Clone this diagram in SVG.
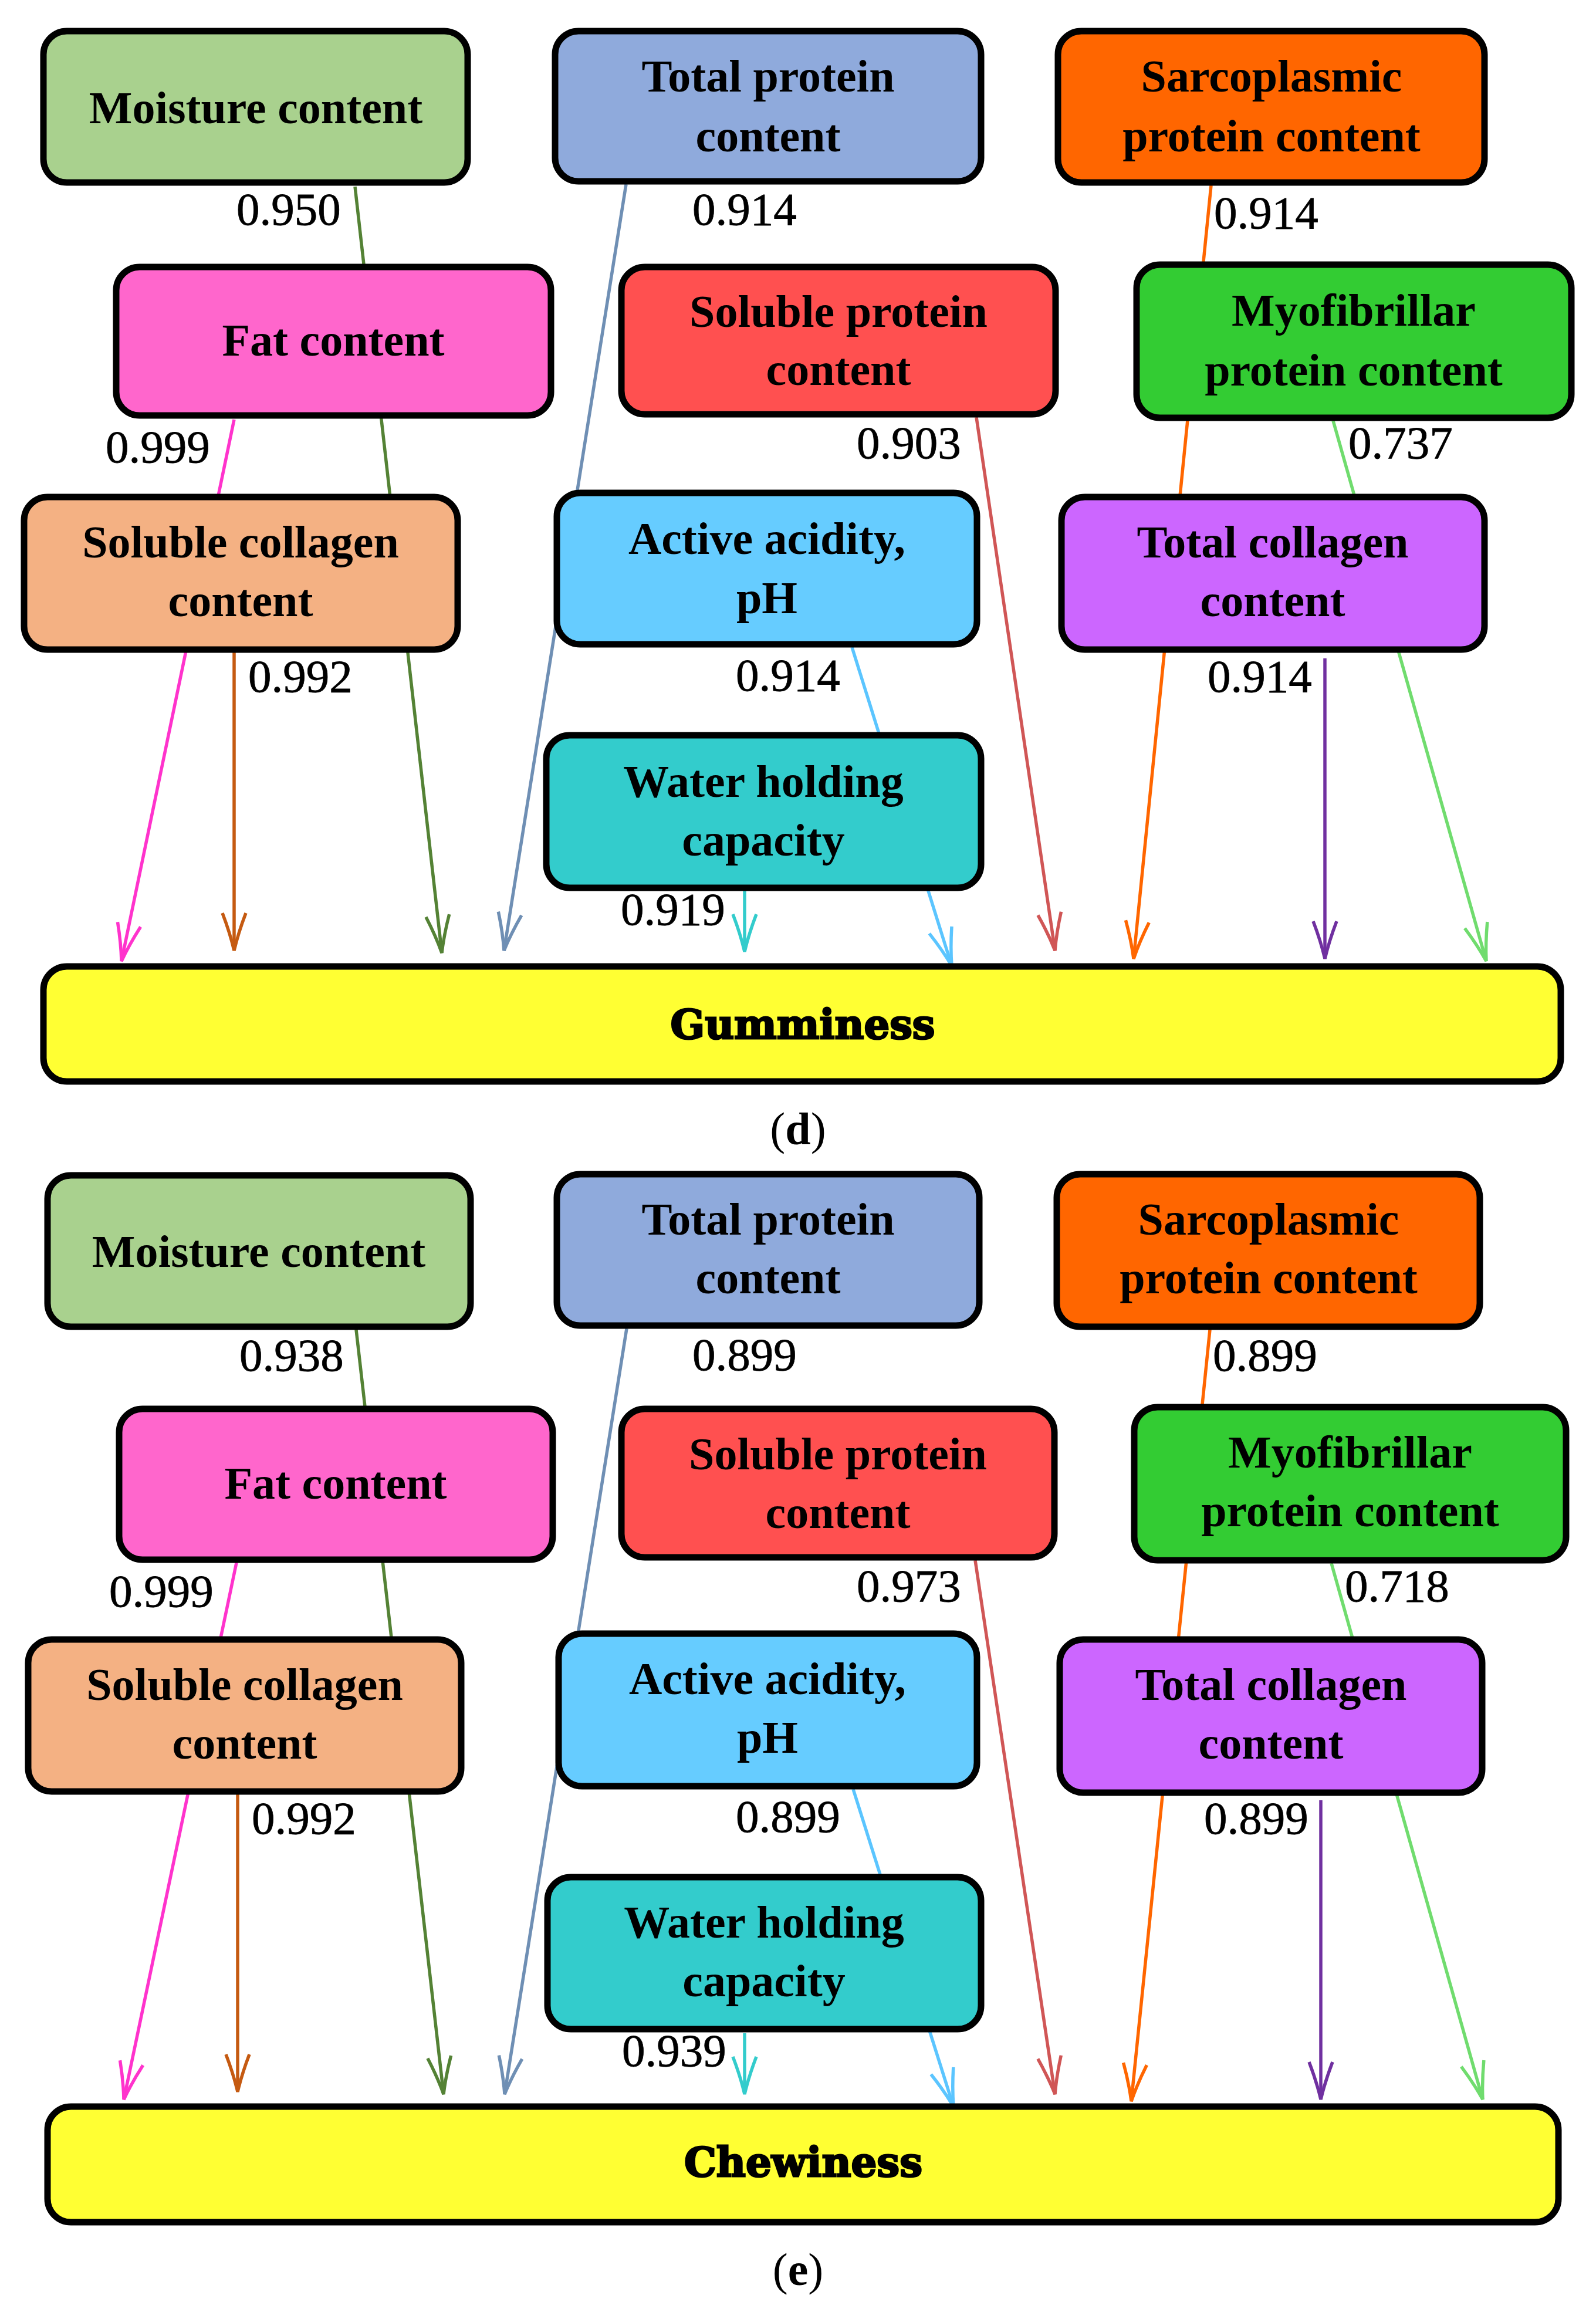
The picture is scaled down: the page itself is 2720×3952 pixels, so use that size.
<svg xmlns="http://www.w3.org/2000/svg" width="2720" height="3952" viewBox="0 0 2720 3952">
<style>
.box{stroke:#000;stroke-width:11}
.t{font-family:"Liberation Serif","Times New Roman",serif;font-weight:bold;font-size:78px;fill:#000;text-anchor:middle}
.big{font-family:"DejaVu Serif","Liberation Serif",serif;font-weight:bold;font-size:69px;fill:#000;text-anchor:middle;stroke:#000;stroke-width:3}
.n{font-family:"Liberation Serif","Times New Roman",serif;font-size:79px;fill:#000;stroke:#000;stroke-width:0.8}
.cap{font-family:"Liberation Serif","Times New Roman",serif;font-size:78px;fill:#000;text-anchor:middle}
.c{fill:none;stroke-width:5.5}
.h{fill:none;stroke-width:5.5}
</style>
<defs>
<marker id="m1" markerUnits="userSpaceOnUse" viewBox="-70 -26 76 52" markerWidth="76" markerHeight="52" refX="0" refY="0" orient="auto"><path class="h" d="M-64,-20 Q-30,-7 0,0 Q-30,7 -64,20" stroke="#548235"/></marker>
<marker id="m2" markerUnits="userSpaceOnUse" viewBox="-70 -26 76 52" markerWidth="76" markerHeight="52" refX="0" refY="0" orient="auto"><path class="h" d="M-64,-20 Q-30,-7 0,0 Q-30,7 -64,20" stroke="#FF33CC"/></marker>
<marker id="m3" markerUnits="userSpaceOnUse" viewBox="-70 -26 76 52" markerWidth="76" markerHeight="52" refX="0" refY="0" orient="auto"><path class="h" d="M-64,-20 Q-30,-7 0,0 Q-30,7 -64,20" stroke="#C55A11"/></marker>
<marker id="m4" markerUnits="userSpaceOnUse" viewBox="-70 -26 76 52" markerWidth="76" markerHeight="52" refX="0" refY="0" orient="auto"><path class="h" d="M-64,-20 Q-30,-7 0,0 Q-30,7 -64,20" stroke="#6F8FB4"/></marker>
<marker id="m5" markerUnits="userSpaceOnUse" viewBox="-70 -26 76 52" markerWidth="76" markerHeight="52" refX="0" refY="0" orient="auto"><path class="h" d="M-64,-20 Q-30,-7 0,0 Q-30,7 -64,20" stroke="#5BC5FF"/></marker>
<marker id="m6" markerUnits="userSpaceOnUse" viewBox="-70 -26 76 52" markerWidth="76" markerHeight="52" refX="0" refY="0" orient="auto"><path class="h" d="M-64,-20 Q-30,-7 0,0 Q-30,7 -64,20" stroke="#33CCCC"/></marker>
<marker id="m7" markerUnits="userSpaceOnUse" viewBox="-70 -26 76 52" markerWidth="76" markerHeight="52" refX="0" refY="0" orient="auto"><path class="h" d="M-64,-20 Q-30,-7 0,0 Q-30,7 -64,20" stroke="#D05656"/></marker>
<marker id="m8" markerUnits="userSpaceOnUse" viewBox="-70 -26 76 52" markerWidth="76" markerHeight="52" refX="0" refY="0" orient="auto"><path class="h" d="M-64,-20 Q-30,-7 0,0 Q-30,7 -64,20" stroke="#FF6600"/></marker>
<marker id="m9" markerUnits="userSpaceOnUse" viewBox="-70 -26 76 52" markerWidth="76" markerHeight="52" refX="0" refY="0" orient="auto"><path class="h" d="M-64,-20 Q-30,-7 0,0 Q-30,7 -64,20" stroke="#7030A0"/></marker>
<marker id="m10" markerUnits="userSpaceOnUse" viewBox="-70 -26 76 52" markerWidth="76" markerHeight="52" refX="0" refY="0" orient="auto"><path class="h" d="M-64,-20 Q-30,-7 0,0 Q-30,7 -64,20" stroke="#70DC6E"/></marker>
</defs>
<rect width="2720" height="3952" fill="#fff"/>

<g id="connectors">
<!-- panel d -->
<path class="c" stroke="#548235" marker-end="url(#m1)" d="M605,318 L753,1624"/>
<path class="c" stroke="#FF33CC" marker-end="url(#m2)" d="M399,715 L207,1638"/>
<path class="c" stroke="#C55A11" marker-end="url(#m3)" d="M399,1112 L399,1620"/>
<path class="c" stroke="#6F8FB4" marker-end="url(#m4)" d="M1067,314 L859,1620"/>
<path class="c" stroke="#5BC5FF" marker-end="url(#m5)" d="M1452,1103 L1622,1646"/>
<path class="c" stroke="#33CCCC" marker-end="url(#m6)" d="M1269,1518 L1269,1622"/>
<path class="c" stroke="#D05656" marker-end="url(#m7)" d="M1664,711 L1798,1620"/>
<path class="c" stroke="#FF6600" marker-end="url(#m8)" d="M2064,316 L1932,1634"/>
<path class="c" stroke="#7030A0" marker-end="url(#m9)" d="M2258,1122 L2258,1634"/>
<path class="c" stroke="#70DC6E" marker-end="url(#m10)" d="M2272,717 L2533,1638"/>
<!-- panel e -->
<path class="c" stroke="#548235" marker-end="url(#m1)" d="M607,2266 L756,3569"/>
<path class="c" stroke="#FF33CC" marker-end="url(#m2)" d="M403,2663 L211,3578"/>
<path class="c" stroke="#C55A11" marker-end="url(#m3)" d="M405,3058 L405,3565"/>
<path class="c" stroke="#6F8FB4" marker-end="url(#m4)" d="M1068,2264 L860,3569"/>
<path class="c" stroke="#5BC5FF" marker-end="url(#m5)" d="M1454,3049 L1625,3590"/>
<path class="c" stroke="#33CCCC" marker-end="url(#m6)" d="M1269,3465 L1269,3569"/>
<path class="c" stroke="#D05656" marker-end="url(#m7)" d="M1662,2659 L1798,3569"/>
<path class="c" stroke="#FF6600" marker-end="url(#m8)" d="M2062,2266 L1928,3581"/>
<path class="c" stroke="#7030A0" marker-end="url(#m9)" d="M2251,3068 L2251,3578"/>
<path class="c" stroke="#70DC6E" marker-end="url(#m10)" d="M2269,2664 L2527,3578"/>
<!-- labels d -->
<text class="n" x="403" y="383">0.950</text>
<text class="n" x="1180" y="383">0.914</text>
<text class="n" x="2069" y="389">0.914</text>
<text class="n" x="180" y="788">0.999</text>
<text class="n" x="1460" y="781">0.903</text>
<text class="n" x="2298" y="781">0.737</text>
<text class="n" x="423" y="1179">0.992</text>
<text class="n" x="1254" y="1177">0.914</text>
<text class="n" x="2058" y="1179">0.914</text>
<text class="n" x="1058" y="1576">0.919</text>
<!-- labels e -->
<text class="n" x="408" y="2336">0.938</text>
<text class="n" x="1180" y="2335">0.899</text>
<text class="n" x="2067" y="2336">0.899</text>
<text class="n" x="186" y="2738">0.999</text>
<text class="n" x="1460" y="2729">0.973</text>
<text class="n" x="2292" y="2729">0.718</text>
<text class="n" x="429" y="3125">0.992</text>
<text class="n" x="1254" y="3122">0.899</text>
<text class="n" x="2052" y="3125">0.899</text>
<text class="n" x="1060" y="3521">0.939</text>
</g>

<!-- Panel d nodes -->
<g id="d-moisture"><rect class="box" x="74" y="53" width="723" height="258" rx="40" fill="#A9D18E"/><text class="t" x="436" y="210">Moisture content</text></g>
<g id="d-total-protein"><rect class="box" x="946" y="53" width="726" height="256" rx="40" fill="#8FAADC"/><text class="t" x="1309" y="156">Total protein</text><text class="t" x="1309" y="258">content</text></g>
<g id="d-sarcoplasmic"><rect class="box" x="1803" y="53" width="727" height="258" rx="40" fill="#FF6600"/><text class="t" x="2167" y="156">Sarcoplasmic</text><text class="t" x="2167" y="258">protein content</text></g>
<g id="d-fat"><rect class="box" x="198" y="455" width="741" height="253" rx="40" fill="#FF66CC"/><text class="t" x="568" y="606">Fat content</text></g>
<g id="d-soluble-protein"><rect class="box" x="1059" y="455" width="740" height="251" rx="40" fill="#FF5050"/><text class="t" x="1429" y="557">Soluble protein</text><text class="t" x="1429" y="656">content</text></g>
<g id="d-myofibrillar"><rect class="box" x="1937" y="451" width="741" height="261" rx="40" fill="#33CC33"/><text class="t" x="2307" y="555">Myofibrillar</text><text class="t" x="2307" y="657">protein content</text></g>
<g id="d-soluble-collagen"><rect class="box" x="41" y="847" width="739" height="260" rx="40" fill="#F4B183"/><text class="t" x="410" y="950">Soluble collagen</text><text class="t" x="410" y="1050">content</text></g>
<g id="d-ph"><rect class="box" x="949" y="840" width="716" height="258" rx="40" fill="#66CCFF"/><text class="t" x="1307" y="944">Active acidity,</text><text class="t" x="1307" y="1045">pH</text></g>
<g id="d-total-collagen"><rect class="box" x="1809" y="847" width="721" height="260" rx="40" fill="#CC66FF"/><text class="t" x="2169" y="950">Total collagen</text><text class="t" x="2169" y="1050">content</text></g>
<g id="d-whc"><rect class="box" x="931" y="1253" width="741" height="260" rx="40" fill="#33CCCC"/><text class="t" x="1301" y="1358">Water holding</text><text class="t" x="1301" y="1458">capacity</text></g>
<g id="d-gumminess"><rect class="box" x="74" y="1647" width="2586" height="196" rx="40" fill="#FFFF33"/><text class="big" x="1368" y="1770" textLength="451" lengthAdjust="spacingAndGlyphs">Gumminess</text></g>
<g id="caption-d"><text class="cap" x="1360" y="1950">(<tspan font-weight="bold">d</tspan>)</text></g>

<!-- Panel e nodes -->
<g id="e-moisture"><rect class="box" x="81" y="2003" width="721" height="258" rx="40" fill="#A9D18E"/><text class="t" x="441" y="2159">Moisture content</text></g>
<g id="e-total-protein"><rect class="box" x="949" y="2001" width="720" height="258" rx="40" fill="#8FAADC"/><text class="t" x="1309" y="2104">Total protein</text><text class="t" x="1309" y="2204">content</text></g>
<g id="e-sarcoplasmic"><rect class="box" x="1801" y="2001" width="721" height="260" rx="40" fill="#FF6600"/><text class="t" x="2162" y="2104">Sarcoplasmic</text><text class="t" x="2162" y="2204">protein content</text></g>
<g id="e-fat"><rect class="box" x="203" y="2401" width="739" height="257" rx="40" fill="#FF66CC"/><text class="t" x="572" y="2554">Fat content</text></g>
<g id="e-soluble-protein"><rect class="box" x="1059" y="2401" width="738" height="253" rx="40" fill="#FF5050"/><text class="t" x="1428" y="2504">Soluble protein</text><text class="t" x="1428" y="2604">content</text></g>
<g id="e-myofibrillar"><rect class="box" x="1933" y="2398" width="736" height="261" rx="40" fill="#33CC33"/><text class="t" x="2301" y="2501">Myofibrillar</text><text class="t" x="2301" y="2601">protein content</text></g>
<g id="e-soluble-collagen"><rect class="box" x="48" y="2794" width="738" height="259" rx="40" fill="#F4B183"/><text class="t" x="417" y="2897">Soluble collagen</text><text class="t" x="417" y="2997">content</text></g>
<g id="e-ph"><rect class="box" x="952" y="2784" width="713" height="260" rx="40" fill="#66CCFF"/><text class="t" x="1308" y="2887">Active acidity,</text><text class="t" x="1308" y="2987">pH</text></g>
<g id="e-total-collagen"><rect class="box" x="1806" y="2794" width="720" height="261" rx="40" fill="#CC66FF"/><text class="t" x="2166" y="2897">Total collagen</text><text class="t" x="2166" y="2997">content</text></g>
<g id="e-whc"><rect class="box" x="933" y="3199" width="739" height="259" rx="40" fill="#33CCCC"/><text class="t" x="1302" y="3302">Water holding</text><text class="t" x="1302" y="3402">capacity</text></g>
<g id="e-chewiness"><rect class="box" x="81" y="3590" width="2575" height="197" rx="40" fill="#FFFF33"/><text class="big" x="1369" y="3709" textLength="406" lengthAdjust="spacingAndGlyphs">Chewiness</text></g>
<g id="caption-e"><text class="cap" x="1360" y="3894">(<tspan font-weight="bold">e</tspan>)</text></g>
</svg>
